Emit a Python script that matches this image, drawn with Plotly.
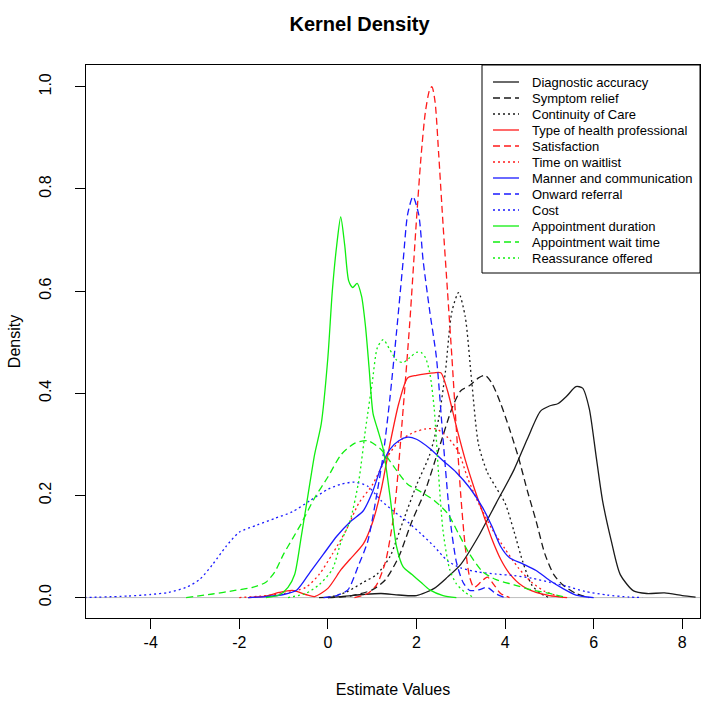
import plotly.graph_objects as go

# ---------------- data ----------------
series_names = [
    "Diagnostic accuracy", "Symptom relief", "Continuity of Care",
    "Type of health professional", "Satisfaction", "Time on waitlist",
    "Manner and communication", "Onward referral", "Cost",
    "Appointment duration", "Appointment wait time", "Reassurance offered",
]
series_colors = ["#1a1a1a", "#1a1a1a", "#1a1a1a",
                 "#ff1a1a", "#ff1a1a", "#ff1a1a",
                 "#1a1aff", "#1a1aff", "#1a1aff",
                 "#10ee10", "#10ee10", "#10ee10"]
series_dashes = ["solid", "7px,4px", "2px,3px"] * 4

x_diag = [-0.2, 0.3, 0.8, 1.2, 1.6, 2.0, 2.4, 2.7, 3.0, 3.4, 3.8, 4.2, 4.5, 4.8, 5.0,
          5.2, 5.4, 5.6, 5.75, 5.9, 6.05, 6.2, 6.4, 6.6, 6.9, 7.2, 7.6, 8.0, 8.3]
y_diag = [0.0, 0.002, 0.006, 0.008, 0.005, 0.004, 0.018, 0.04, 0.065, 0.12, 0.185, 0.25, 0.31,
          0.365, 0.375, 0.38, 0.395, 0.413, 0.41, 0.37, 0.28, 0.19, 0.11, 0.045, 0.013,
          0.008, 0.009, 0.004, 0.001]

x_symp = [0.0, 0.5, 1.0, 1.3, 1.6, 1.9, 2.2, 2.5, 2.8, 3.0, 3.2, 3.4, 3.55, 3.7, 3.9, 4.1,
          4.3, 4.5, 4.7, 4.9, 5.1, 5.3, 5.6, 5.9]
y_symp = [0.0, 0.003, 0.015, 0.035, 0.08, 0.15, 0.21, 0.29, 0.37, 0.405, 0.415, 0.43, 0.435,
          0.42, 0.38, 0.33, 0.275, 0.21, 0.15, 0.085, 0.045, 0.025, 0.008, 0.0]

x_cont = [0.0, 0.4, 0.8, 1.1, 1.4, 1.7, 2.0, 2.3, 2.5, 2.65, 2.8, 2.95, 3.1, 3.25, 3.4, 3.6,
          3.8, 4.0, 4.2, 4.4, 4.6, 4.8, 5.0]
y_cont = [0.0, 0.01, 0.03, 0.045, 0.08, 0.15, 0.22, 0.28, 0.35, 0.44, 0.56, 0.597, 0.55, 0.42,
          0.3, 0.245, 0.215, 0.185, 0.13, 0.07, 0.025, 0.008, 0.0]

x_type = [-1.8, -1.4, -1.1, -0.8, -0.5, -0.3, 0.0, 0.3, 0.5, 0.8, 1.0, 1.2, 1.4, 1.6, 1.8,
          2.0, 2.2, 2.4, 2.55, 2.7, 2.9, 3.1, 3.3, 3.5, 3.7, 3.9, 4.1, 4.4, 4.7, 5.0, 5.4]
y_type = [0.0, 0.003, 0.01, 0.014, 0.006, 0.002, 0.018, 0.055, 0.075, 0.105, 0.145, 0.21,
          0.3, 0.38, 0.43, 0.435, 0.438, 0.44, 0.44, 0.405, 0.335, 0.27, 0.215, 0.165,
          0.115, 0.075, 0.047, 0.022, 0.01, 0.004, 0.0]

x_sat = [0.6, 0.9, 1.1, 1.3, 1.5, 1.7, 1.85, 2.0, 2.1, 2.2, 2.3, 2.35, 2.42, 2.5, 2.6, 2.7,
         2.8, 2.9, 3.0, 3.1, 3.2, 3.3, 3.45, 3.6, 3.75, 3.9, 4.1]
y_sat = [0.0, 0.008, 0.025, 0.07, 0.17, 0.37, 0.54, 0.74, 0.86, 0.95, 0.995, 1.0, 0.97, 0.87,
         0.73, 0.6, 0.47, 0.33, 0.2, 0.1, 0.04, 0.02, 0.03, 0.04, 0.025, 0.008, 0.0]

x_wait = [-2.0, -1.5, -1.0, -0.5, -0.2, 0.1, 0.4, 0.7, 1.0, 1.3, 1.6, 1.9, 2.2, 2.45, 2.7,
          2.95, 3.15, 3.4, 3.7, 4.0, 4.3, 4.6, 4.9, 5.3]
y_wait = [0.0, 0.003, 0.008, 0.02, 0.045, 0.085, 0.13, 0.185, 0.22, 0.27, 0.305, 0.322, 0.33,
          0.33, 0.314, 0.285, 0.235, 0.185, 0.135, 0.095, 0.058, 0.03, 0.012, 0.0]

x_mann = [-1.8, -1.4, -1.0, -0.7, -0.4, -0.1, 0.2, 0.5, 0.8, 1.0, 1.2, 1.4, 1.6, 1.8, 2.0,
          2.3, 2.6, 2.9, 3.2, 3.5, 3.7, 3.9, 4.1, 4.4, 4.7, 5.0, 5.3, 5.6, 6.0]
y_mann = [0.0, 0.002, 0.006, 0.015, 0.05, 0.085, 0.12, 0.148, 0.17, 0.205, 0.255, 0.29,
          0.307, 0.314, 0.31, 0.292, 0.268, 0.245, 0.215, 0.175, 0.14, 0.1, 0.078, 0.066,
          0.053, 0.034, 0.018, 0.005, 0.0]

x_onw = [-0.1, 0.2, 0.45, 0.7, 0.9, 1.1, 1.25, 1.4, 1.55, 1.7, 1.8, 1.92, 2.05, 2.15, 2.3,
         2.45, 2.6, 2.75, 2.9, 3.05, 3.2, 3.4, 3.6, 3.8, 4.0]
y_onw = [0.0, 0.004, 0.015, 0.065, 0.11, 0.2, 0.28, 0.39, 0.52, 0.66, 0.75, 0.785, 0.75,
         0.66, 0.56, 0.47, 0.31, 0.16, 0.07, 0.03, 0.014, 0.015, 0.02, 0.007, 0.0]

x_cost = [-5.5, -4.5, -4.0, -3.6, -3.2, -2.9, -2.6, -2.3, -2.0, -1.6, -1.2, -0.8, -0.4, 0.0,
          0.3, 0.6, 0.9, 1.2, 1.5, 1.8, 2.1, 2.4, 2.7, 3.0, 3.4, 3.8, 4.2, 4.6, 5.0, 5.4,
          5.8, 6.3, 6.8, 7.1]
y_cost = [0.0, 0.003, 0.006, 0.01, 0.02, 0.035, 0.065, 0.1, 0.128, 0.142, 0.155, 0.168,
          0.19, 0.212, 0.222, 0.226, 0.218, 0.19, 0.168, 0.148, 0.125, 0.1, 0.072, 0.058,
          0.05, 0.046, 0.043, 0.038, 0.03, 0.022, 0.012, 0.005, 0.001, 0.0]

x_dur = [-1.4, -1.1, -0.9, -0.75, -0.6, -0.45, -0.3, -0.15, 0.0, 0.1, 0.2, 0.29, 0.38, 0.47,
         0.56, 0.66, 0.76, 0.85, 0.93, 1.02, 1.12, 1.25, 1.4, 1.55, 1.7, 1.9, 2.1, 2.3,
         2.6, 2.9]
y_dur = [0.0, 0.005, 0.02, 0.045, 0.12, 0.2, 0.28, 0.34, 0.47, 0.6, 0.69, 0.745, 0.69, 0.62,
         0.607, 0.615, 0.59, 0.53, 0.45, 0.36, 0.33, 0.29, 0.2, 0.1, 0.06, 0.045, 0.03,
         0.015, 0.004, 0.0]

x_apw = [-3.2, -2.6, -2.1, -1.7, -1.4, -1.2, -1.0, -0.8, -0.6, -0.3, 0.0, 0.3, 0.6, 0.9,
         1.2, 1.5, 1.8, 2.1, 2.4, 2.7, 2.95, 3.2, 3.5, 3.8, 4.2, 4.6, 5.0, 5.4]
y_apw = [0.0, 0.007, 0.014, 0.02, 0.03, 0.05, 0.085, 0.115, 0.145, 0.195, 0.236, 0.28, 0.302,
         0.307, 0.29, 0.255, 0.222, 0.207, 0.19, 0.165, 0.125, 0.085, 0.05, 0.035, 0.025,
         0.015, 0.008, 0.0]

x_reas = [-0.9, -0.5, -0.2, 0.1, 0.3, 0.5, 0.7, 0.85, 1.0, 1.12, 1.25, 1.4, 1.55, 1.7, 1.85,
          2.0, 2.1, 2.2, 2.3, 2.4, 2.5, 2.6, 2.75, 2.9, 3.1, 3.3]
y_reas = [0.0, 0.008, 0.025, 0.055, 0.11, 0.15, 0.23, 0.33, 0.42, 0.49, 0.505, 0.485, 0.465,
          0.46, 0.47, 0.48, 0.48, 0.47, 0.44, 0.37, 0.24, 0.13, 0.055, 0.027, 0.01, 0.0]

series_x = [x_diag, x_symp, x_cont, x_type, x_sat, x_wait,
            x_mann, x_onw, x_cost, x_dur, x_apw, x_reas]
series_y = [y_diag, y_symp, y_cont, y_type, y_sat, y_wait,
            y_mann, y_onw, y_cost, y_dur, y_apw, y_reas]

x_ticks = [-4, -2, 0, 2, 4, 6, 8]
y_ticks = [0.0, 0.2, 0.4, 0.6, 0.8, 1.0]

# ---------------- layout geometry ----------------
W, H = 719, 706
ML, MR, MT, MB = 86, 19, 65, 88
PW, PH = W - ML - MR, H - MT - MB


def px(xp):
    return (xp - ML) / PW


def py(yp):
    return (H - MB - yp) / PH


fig = go.Figure()
for name, xs, ys, col, dsh in zip(series_names, series_x, series_y,
                                  series_colors, series_dashes):
    fig.add_trace(go.Scatter(
        x=xs, y=ys, mode="lines", name=name, showlegend=False,
        line=dict(color=col, width=1.3, dash=dsh, shape="spline", smoothing=0.7),
    ))

shapes = []
# grey zero line (R density plot)
shapes.append(dict(type="line", xref="paper", yref="y", x0=0, x1=1, y0=0, y1=0,
                   line=dict(color="#bebebe", width=1), layer="below"))

# manual legend box
shapes.append(dict(type="rect", xref="paper", yref="paper",
                   x0=px(482), x1=px(700), y0=py(273), y1=py(65),
                   line=dict(color="black", width=1), fillcolor="white", layer="above"))
annotations = []
for i, (name, col, dsh) in enumerate(zip(series_names, series_colors, series_dashes)):
    yy = 82 + 16 * i
    shapes.append(dict(type="line", xref="paper", yref="paper",
                       x0=px(493), x1=px(519), y0=py(yy), y1=py(yy),
                       line=dict(color=col, width=1.3, dash=dsh), layer="above"))
    annotations.append(dict(text=name, xref="paper", yref="paper",
                            x=px(530), y=py(yy), xanchor="left", yanchor="middle",
                            showarrow=False,
                            font=dict(family="Liberation Sans, Arial", size=13, color="black")))

fig.update_layout(
    width=W, height=H,
    margin=dict(l=ML, r=MR, t=MT, b=MB),
    paper_bgcolor="white", plot_bgcolor="white",
    font=dict(family="Liberation Sans, Arial", color="black"),
    title=dict(text="<b>Kernel Density</b>", x=px(393), xanchor="center",
               y=1 - 24 / H, yanchor="middle", yref="container",
               font=dict(size=20, family="Liberation Sans, Arial", color="black")),
    shapes=shapes, annotations=annotations,
    showlegend=False,
)
fig.update_xaxes(
    range=[-5.46, 8.40], tickvals=x_ticks, ticktext=[str(v) for v in x_ticks],
    showgrid=False, zeroline=False, showline=True, mirror=True,
    linecolor="black", linewidth=1, ticks="outside", ticklen=10, tickcolor="black",
    tickfont=dict(size=16),
    title=dict(text="Estimate Values", font=dict(size=16), standoff=33),
)
fig.update_yaxes(
    range=[-0.04, 1.0426], tickvals=y_ticks, ticktext=["%.1f" % v for v in y_ticks],
    showgrid=False, zeroline=False, showline=True, mirror=True,
    linecolor="black", linewidth=1, ticks="outside", ticklen=10, tickcolor="black",
    tickfont=dict(size=16), tickangle=-90, ticklabelstandoff=18,
    title=dict(text="Density", font=dict(size=16), standoff=11),
)

fig.write_html("out.html")
